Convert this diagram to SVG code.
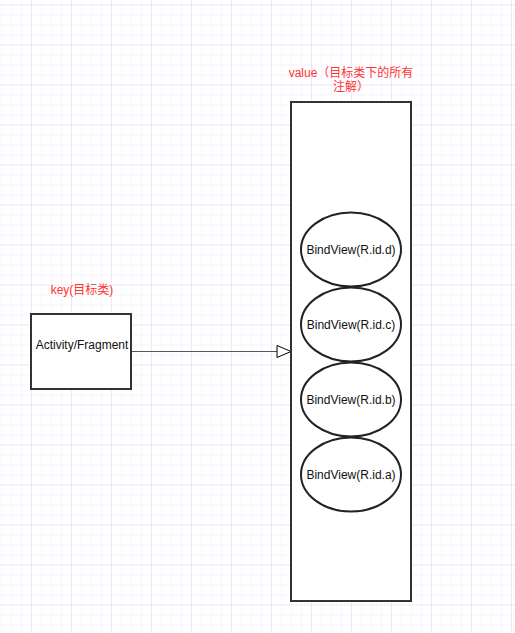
<svg xmlns="http://www.w3.org/2000/svg" width="515" height="633" viewBox="0 0 515 633">
<defs>
<pattern id="minor" x="1" y="4.5" width="10" height="10" patternUnits="userSpaceOnUse">
<path d="M0 0H10M0 0V10" fill="none" stroke="#ececfb" stroke-width="1"/>
</pattern>
<pattern id="major" x="31" y="4.5" width="40" height="40" patternUnits="userSpaceOnUse">
<path d="M0 0H40M0 0V40" fill="none" stroke="#dedef7" stroke-width="1"/>
</pattern>
<marker id="open" viewBox="0 0 16 14" refX="15" refY="7" markerWidth="16" markerHeight="14" markerUnits="userSpaceOnUse" orient="auto">
<path d="M1 1L15 7L1 13Z" fill="#fff" stroke="#000" stroke-width="1"/>
</marker>
</defs>
<style>
.box{fill:#fff;stroke:#333;stroke-width:2}
.ell{fill:#fff;stroke:#222;stroke-width:2}
.lbl{font-family:"Liberation Sans","Noto Sans CJK SC",sans-serif;font-size:12px;fill:#111;text-anchor:middle}
.red{font-family:"Liberation Sans","Noto Sans CJK SC",sans-serif;font-size:12px;fill:#ff3333;text-anchor:middle}
</style>
<rect width="515" height="633" fill="#fff"/>
<rect width="515" height="633" fill="url(#minor)"/>
<rect width="515" height="633" fill="url(#major)"/>
<g id="connectors">
<path d="M131 351.5H291" fill="none" stroke="#555" stroke-width="1" marker-end="url(#open)"/>
</g>
<g id="key-label"><text class="red" x="82" y="294">key(目标类)</text></g>
<g id="value-label"><text class="red" x="351" y="77">value（目标类下的所有</text><text class="red" x="351" y="91">注解）</text></g>
<g id="activity"><rect class="box" x="31" y="314" width="100" height="75"/><text class="lbl" x="82" y="349">Activity/Fragment</text></g>
<g id="value"><rect class="box" x="291" y="102" width="120" height="499"/></g>
<g id="bind-d"><ellipse class="ell" cx="351" cy="249.5" rx="50" ry="37"/><text class="lbl" x="351" y="253.5">BindView(R.id.d)</text></g>
<g id="bind-c"><ellipse class="ell" cx="351" cy="324.5" rx="50" ry="37"/><text class="lbl" x="351" y="328.5">BindView(R.id.c)</text></g>
<g id="bind-b"><ellipse class="ell" cx="351" cy="399.5" rx="50" ry="37"/><text class="lbl" x="351" y="403.5">BindView(R.id.b)</text></g>
<g id="bind-a"><ellipse class="ell" cx="351" cy="474.5" rx="50" ry="37"/><text class="lbl" x="351" y="478.5">BindView(R.id.a)</text></g>
</svg>
